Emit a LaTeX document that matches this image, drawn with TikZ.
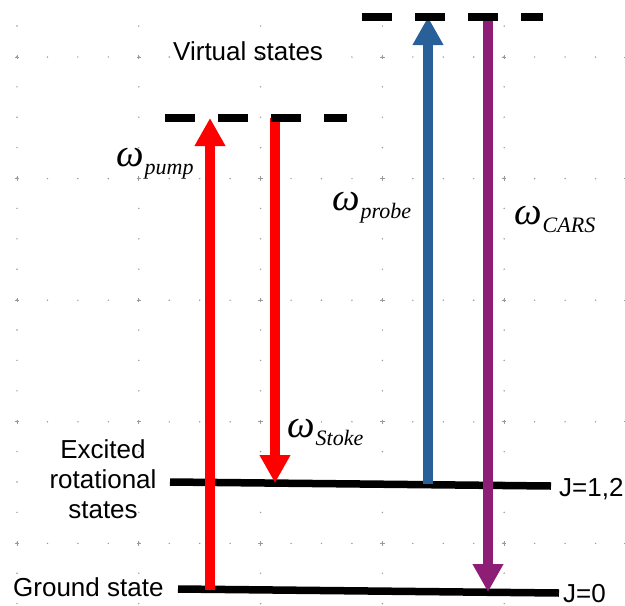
\documentclass[tikz,border=0pt]{standalone}
\usepackage{fontspec}
\setmainfont{Liberation Sans}
\newfontfamily\lserif{Liberation Serif}
\usetikzlibrary{arrows.meta}
\definecolor{probeblue}{HTML}{2A6099}
\definecolor{carspurple}{HTML}{8D1D75}
\definecolor{pumpred}{HTML}{FF0000}
\definecolor{griddot}{HTML}{9A9A9A}
\newcommand{\omlab}[1]{{\lserif\itshape\fontsize{39}{39}\selectfont ω\hspace{1pt}\raisebox{-8pt}{\fontsize{22}{22}\selectfont #1}}}
\begin{document}
\begin{tikzpicture}[x=1pt,y=-1pt,
  level/.style={line width=7.5pt, black},
  virt/.style={line width=8pt, black, dash pattern=on 30pt off 23pt},
  beam/.style={line width=10pt, -{Triangle[width=29pt,length=28pt]}},
  lab/.style={inner sep=0pt, font=\fontsize{26}{30}\selectfont},
  wlab/.style={inner sep=0pt, anchor=base west},
  minordot/.style={fill=griddot},
  majordot/.style={draw=griddot, line width=0.9pt}]
\useasboundingbox (0,0) rectangle (625,606);
% background dotted grid
\foreach \r in {0,...,4}{
  \foreach \c in {0,...,20}{
    \fill[minordot] ({17+30.45*\c},{57+121.6*\r}) circle (0.8pt);
  }
}
\foreach \c in {0,...,5}{
  \foreach \j in {0,...,19}{
    \fill[minordot] ({17+121.8*\c},{26+30.4*\j}) circle (0.8pt);
  }
}
\foreach \r in {0,...,4}{
  \foreach \c in {0,...,5}{
    \draw[majordot] ({17+121.8*\c-2.2},{57+121.6*\r}) -- ({17+121.8*\c+2.2},{57+121.6*\r})
                    ({17+121.8*\c},{57+121.6*\r-2.2}) -- ({17+121.8*\c},{57+121.6*\r+2.2});
  }
}
% coordinates
\coordinate (exL) at (170,482); \coordinate (exR) at (551,486);
\coordinate (grL) at (178,589); \coordinate (grR) at (559,593);
\coordinate (v1L) at (165,118); \coordinate (v1R) at (347,118);
\coordinate (v2L) at (362,17);  \coordinate (v2R) at (543,17);
\coordinate (pumpS) at (210,590); \coordinate (pumpE) at (210,118);
\coordinate (stokS) at (275,118); \coordinate (stokE) at (275,483);
\coordinate (probS) at (428,484); \coordinate (probE) at (428,17);
\coordinate (carsS) at (488,17);  \coordinate (carsE) at (488,592);
% energy levels
\draw[level] (exL) -- (exR);
\draw[level] (grL) -- (grR);
% beams
\draw[beam, pumpred] (pumpS) -- (pumpE);
\draw[beam, pumpred] (stokS) -- (stokE);
\draw[beam, probeblue] (probS) -- (probE);
\draw[beam, carspurple] (carsS) -- (carsE);
% virtual levels
\draw[virt] (v1L) -- (v1R);
\draw[virt] (v2L) -- (v2R);
% labels
\node[lab, anchor=base west] (virtlab) at (173,60) {Virtual states};
\node[lab, anchor=base, align=center] (exlab) at (103,518) {Excited\\rotational\\states};
\node[lab, anchor=base west] (grlab) at (13,596) {Ground state};
\node[lab, anchor=base west] (j12) at (559,496) {J=1,2};
\node[lab, anchor=base west] (j0) at (563,602) {J=0};
\node[wlab] (wpump) at (116,166) {\omlab{pump}};
\node[wlab] (wprobe) at (332,210) {\omlab{probe}};
\node[wlab] (wcars) at (514,224) {\omlab{CARS}};
\node[wlab] (wstoke) at (287,437) {\omlab{Stoke}};
\end{tikzpicture}
\end{document}
